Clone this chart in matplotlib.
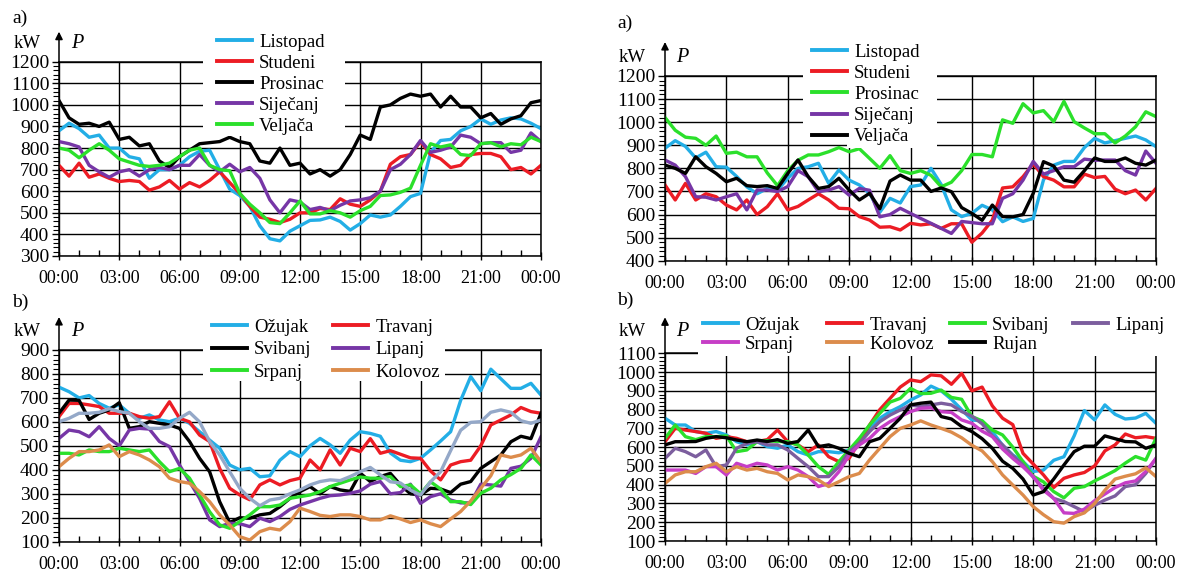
import numpy as np
import matplotlib
matplotlib.use("Agg")
import matplotlib.pyplot as plt
from matplotlib.lines import Line2D
from matplotlib.patches import Rectangle
from matplotlib.ticker import MultipleLocator

plt.rcParams['font.family'] = ['Liberation Serif', 'DejaVu Serif']

# ---------------------------------------------------------------- data (kW, every 30 min)
hours = np.arange(0, 24.5, 0.5)
time_ticks = list(range(0, 25, 3))
time_labels = ["00:00", "03:00", "06:00", "09:00", "12:00", "15:00", "18:00", "21:00", "00:00"]

# top-left, a)
tl_listopad = [880, 915, 890, 850, 860, 800, 800, 760, 750, 660, 700, 700, 720, 760, 785, 790, 700, 610, 580, 530,
               440, 380, 370, 415, 440, 465, 467, 480, 460, 420, 450, 490, 480, 490, 530, 575, 590, 780, 835, 840,
               880, 900, 935, 910, 930, 940, 935, 915, 890]
tl_studeni = [720, 670, 730, 665, 680, 660, 645, 650, 645, 605, 620, 650, 610, 640, 620, 650, 690, 640, 590, 530,
              480, 470, 455, 470, 500, 500, 520, 515, 565, 540, 530, 560, 600, 725, 760, 770, 830, 770, 750, 710,
              720, 770, 775, 775, 760, 700, 710, 680, 720]
tl_prosinac = [1020, 940, 910, 915, 900, 920, 840, 850, 810, 820, 740, 710, 760, 790, 820, 825, 830, 850, 830, 820,
               740, 730, 800, 720, 730, 680, 700, 670, 700, 770, 860, 840, 990, 1000, 1030, 1050, 1040, 1050, 990,
               1040, 990, 990, 940, 960, 910, 935, 950, 1010, 1020]
tl_sijecanj = [830, 820, 805, 720, 690, 665, 690, 700, 670, 700, 710, 700, 720, 720, 770, 720, 690, 725, 690, 710,
               660, 560, 500, 560, 550, 515, 525, 510, 535, 555, 560, 570, 600, 700, 725, 770, 835, 780, 790, 805,
               860, 850, 820, 825, 825, 780, 790, 870, 830]
tl_veljaca = [800, 790, 755, 790, 820, 790, 750, 735, 720, 715, 720, 730, 760, 790, 800, 720, 700, 695, 590, 540,
              500, 455, 450, 500, 555, 495, 495, 510, 500, 480, 510, 530, 580, 583, 595, 614, 720, 820, 805, 815,
              770, 765, 820, 825, 806, 820, 815, 850, 830]

# top-right, a)
tr_listopad = [887, 920, 895, 845, 870, 807, 805, 765, 720, 690, 713, 705, 757, 800, 807, 822, 735, 793, 749, 728,
               692, 610, 670, 650, 721, 728, 800, 730, 620, 591, 605, 640, 620, 569, 590, 570, 583, 750, 814, 830,
               830, 890, 930, 910, 920, 930, 940, 923, 894]
tr_studeni = [728, 663, 735, 663, 690, 677, 641, 620, 663, 600, 634, 690, 620, 635, 663, 690, 663, 627, 625, 591,
              576, 545, 547, 533, 562, 555, 560, 540, 560, 560, 480, 520, 576, 715, 720, 764, 820, 764, 749, 720,
              720, 775, 760, 765, 710, 690, 706, 663, 713]
tr_prosinac = [1020, 965, 935, 930, 900, 940, 865, 870, 850, 850, 780, 725, 790, 835, 858, 858, 872, 890, 872, 885,
               843, 800, 855, 790, 778, 790, 770, 720, 740, 790, 860, 860, 850, 1010, 995, 1080, 1040, 1050, 1002,
               1090, 1002, 975, 950, 950, 910, 940, 980, 1045, 1024]
tr_sijecanj = [836, 814, 764, 677, 675, 663, 677, 690, 620, 706, 706, 700, 721, 790, 764, 699, 706, 721, 684, 713,
               705, 590, 600, 627, 605, 583, 562, 540, 518, 570, 565, 560, 560, 670, 690, 749, 830, 775, 790, 807,
               807, 840, 835, 836, 836, 790, 771, 875, 822]
tr_veljaca = [814, 800, 778, 850, 807, 778, 742, 757, 725, 721, 725, 713, 778, 836, 764, 713, 721, 757, 706, 663,
              692, 625, 745, 771, 749, 749, 700, 715, 699, 630, 605, 575, 641, 591, 590, 600, 692, 829, 810, 749,
              740, 790, 845, 830, 830, 845, 822, 814, 836]

# bottom-left, b)
bl_ozujak = [745, 726, 700, 710, 677, 657, 671, 636, 615, 629, 608, 601, 615, 594, 559, 524, 490, 420, 400, 406,
             371, 375, 440, 476, 455, 500, 531, 504, 469, 524, 559, 552, 540, 470, 440, 434, 448, 483, 520, 559,
             690, 789, 730, 820, 780, 740, 740, 761, 712]
bl_travanj = [622, 677, 677, 671, 664, 636, 636, 636, 622, 615, 622, 684, 615, 600, 545, 518, 406, 323, 295, 275,
              337, 358, 337, 355, 365, 441, 400, 483, 420, 490, 476, 530, 469, 480, 465, 450, 448, 395, 358, 420,
              434, 440, 500, 587, 608, 629, 660, 643, 636]
bl_svibanj = [636, 691, 690, 610, 636, 650, 680, 573, 580, 601, 594, 587, 573, 518, 448, 392, 267, 180, 200, 198,
              212, 218, 246, 281, 309, 330, 300, 330, 316, 310, 386, 351, 372, 385, 337, 300, 295, 323, 320, 305,
              340, 351, 406, 434, 462, 517, 540, 530, 636]
bl_lipanj = [531, 566, 559, 538, 580, 531, 500, 566, 573, 570, 518, 497, 420, 351, 281, 191, 163, 177, 175, 163,
             198, 184, 205, 235, 253, 267, 281, 292, 295, 302, 312, 340, 351, 300, 305, 340, 260, 288, 300, 274,
             262, 262, 340, 337, 332, 406, 415, 448, 538]
bl_srpanj = [469, 469, 462, 483, 476, 476, 490, 483, 476, 483, 434, 392, 406, 365, 295, 225, 170, 156, 184, 212,
             246, 246, 253, 281, 288, 295, 309, 330, 344, 358, 370, 365, 365, 372, 330, 337, 300, 350, 320, 267,
             267, 255, 302, 323, 358, 380, 406, 462, 420]
bl_kolovoz = [413, 448, 476, 476, 483, 504, 455, 476, 462, 441, 413, 365, 351, 344, 309, 267, 212, 170, 121, 107,
              142, 156, 149, 184, 240, 226, 210, 205, 212, 212, 205, 191, 191, 208, 195, 180, 191, 175, 163, 195,
              226, 270, 323, 375, 462, 452, 462, 490, 434]
bl_rujan = [601, 615, 636, 636, 640, 655, 643, 636, 601, 573, 573, 580, 615, 640, 600, 518, 462, 392, 323, 281,
            250, 274, 281, 300, 316, 337, 351, 358, 355, 372, 392, 410, 379, 350, 345, 315, 295, 350, 392, 480,
            565, 598, 601, 640, 650, 640, 605, 594, 608]

# bottom-right, b)
br_ozujak = [754, 718, 718, 683, 674, 683, 665, 629, 612, 629, 603, 594, 612, 576, 558, 576, 576, 570, 585, 629,
             700, 754, 789, 816, 851, 878, 925, 900, 855, 800, 745, 740, 683, 610, 558, 523, 470, 478, 530, 549,
             660, 795, 745, 825, 775, 750, 755, 780, 727]
br_travanj = [629, 700, 691, 683, 674, 647, 656, 647, 629, 630, 640, 691, 629, 612, 576, 612, 549, 523, 540, 629,
              718, 800, 860, 920, 958, 949, 985, 980, 935, 993, 900, 920, 820, 754, 720, 567, 510, 452, 385, 434,
              452, 465, 500, 580, 612, 670, 650, 656, 647]
br_svibanj = [647, 718, 656, 640, 656, 656, 660, 576, 585, 629, 635, 630, 629, 612, 558, 496, 455, 523, 585, 647,
              718, 780, 840, 860, 913, 885, 887, 904, 865, 855, 763, 740, 691, 665, 600, 523, 445, 415, 363, 330,
              381, 390, 420, 447, 475, 515, 550, 531, 647]
br_lipanj = [540, 594, 576, 549, 585, 496, 505, 594, 620, 629, 612, 612, 585, 540, 496, 443, 443, 496, 576, 620,
             683, 736, 771, 798, 825, 816, 825, 834, 825, 790, 765, 725, 660, 612, 555, 505, 440, 381, 327, 310,
             283, 256, 290, 318, 340, 390, 400, 460, 540]
br_srpanj = [478, 478, 478, 460, 496, 496, 452, 514, 496, 514, 505, 478, 496, 478, 443, 390, 407, 469, 558, 612,
             647, 700, 736, 763, 789, 807, 810, 789, 785, 745, 727, 685, 656, 590, 540, 495, 443, 370, 327, 250,
             247, 270, 315, 350, 385, 410, 420, 470, 540]
br_kolovoz = [407, 452, 469, 469, 496, 514, 469, 496, 478, 487, 469, 460, 425, 452, 443, 425, 390, 416, 443, 460,
              532, 594, 656, 700, 718, 740, 718, 700, 680, 650, 610, 580, 523, 452, 398, 345, 283, 240, 203, 195,
              230, 250, 300, 370, 430, 445, 458, 490, 443]
br_rujan = [612, 629, 629, 630, 647, 656, 650, 638, 629, 638, 630, 640, 620, 630, 691, 603, 612, 594, 567, 549,
            629, 647, 700, 754, 825, 834, 840, 763, 750, 710, 683, 645, 594, 525, 487, 430, 345, 363, 430, 505,
            576, 605, 605, 660, 645, 630, 628, 594, 612]

# ---------------------------------------------------------------- styling
CYAN, RED, BLACK = '#23aee6', '#ec1c24', '#000000'
PURPLE, GREEN, ORANGE = '#7636a6', '#2be02b', '#dc8c4c'
STEEL, MAGENTA, LILAC = '#94a8c8', '#c63ec6', '#7c5e9e'
LW = 2.4
W, H = 1184, 575
FS_XTICK = 13
FS_YTICK = 14
FS_LEG = 13.5

fig = plt.figure(figsize=(W / 100, H / 100), dpi=100)
fig.patch.set_facecolor('white')


def px_axes(x0, y0, x1, y1):
    return fig.add_axes([x0 / W, 1 - y1 / H, (x1 - x0) / W, (y1 - y0) / H])


def style_axes(ax, ymin, ymax, top_px):
    ax.set_xlim(0, 24)
    ax.set_ylim(ymin, ymax)
    ax.set_xticks(time_ticks)
    ax.set_xticklabels(time_labels)
    ax.xaxis.set_minor_locator(MultipleLocator(1))
    ax.yaxis.set_major_locator(MultipleLocator(100))
    ax.yaxis.set_minor_locator(MultipleLocator(20))
    ax.grid(True, which='major', color='black', lw=1.0)
    ax.set_axisbelow(True)
    ax.tick_params(axis='x', which='major', direction='inout', length=6, width=1,
                   labelsize=FS_XTICK, pad=7)
    ax.tick_params(axis='x', which='minor', direction='in', length=4, width=1)
    ax.tick_params(axis='y', which='major', direction='out', length=5, width=1,
                   labelsize=FS_YTICK, pad=2)
    ax.tick_params(axis='y', which='minor', direction='out', length=4, width=0.8)
    for s in ax.spines.values():
        s.set_linewidth(1.1)
        s.set_color('black')
    # arrow on the power axis
    h = ax.get_position().height * H
    ax.annotate('', xy=(0, 1 + top_px / h), xytext=(0, 1), xycoords='axes fraction',
                arrowprops=dict(arrowstyle='-|>', color='black', lw=1.1,
                                mutation_scale=11, shrinkA=0, shrinkB=0),
                annotation_clip=False)


def white_box(x0, y0, x1, y1):
    fig.add_artist(Rectangle((x0 / W, 1 - y1 / H), (x1 - x0) / W, (y1 - y0) / H,
                             transform=fig.transFigure, facecolor='white',
                             edgecolor='none', zorder=3))


def entry(color, label, x, y):
    handle = Line2D([], [], color=color, lw=LW + 0.4)
    fig.legend([handle], [label], loc='center left', bbox_to_anchor=(x / W, 1 - y / H),
               frameon=False, borderpad=0, borderaxespad=0, handlelength=1.85,
               handletextpad=0.4, fontsize=FS_LEG)


def panel_labels(tag, x_tag, y_tag, y_kw, x_p):
    fig.text(x_tag / W, 1 - y_tag / H, tag, fontsize=14, ha='center', va='center')
    fig.text((x_tag + 7) / W, 1 - y_kw / H, 'kW', fontsize=13.5, ha='center', va='center')
    fig.text(x_p / W, 1 - y_kw / H, 'P', fontsize=14.5, style='italic', ha='center', va='center')


# ---------------------------------------------------------------- top-left
ax = px_axes(59, 61.7, 541, 256)
style_axes(ax, 300, 1200, 30)
tl = [(tl_listopad, CYAN, 'Listopad'), (tl_studeni, RED, 'Studeni'),
      (tl_prosinac, BLACK, 'Prosinac'), (tl_sijecanj, PURPLE, 'Siječanj'),
      (tl_veljaca, GREEN, 'Veljača')]
for vals, c, lab in tl:
    ax.plot(hours, vals, color=c, lw=LW, solid_joinstyle='round')
white_box(203, 20, 345, 136)
for i, (vals, c, lab) in enumerate(tl):
    entry(c, lab, 217, 42 + 21 * i)
panel_labels('a)', 20, 18, 43, 77)

# ---------------------------------------------------------------- top-right
ax = px_axes(665, 76, 1156, 260.7)
style_axes(ax, 400, 1200, 34)
tr = [(tr_listopad, CYAN, 'Listopad'), (tr_studeni, RED, 'Studeni'),
      (tr_prosinac, GREEN, 'Prosinac'), (tr_sijecanj, PURPLE, 'Siječanj'),
      (tr_veljaca, BLACK, 'Veljača')]
for vals, c, lab in tr:
    ax.plot(hours, vals, color=c, lw=LW, solid_joinstyle='round')
white_box(803, 30, 937, 142)
white_box(847, 30, 937, 148)
for i, (vals, c, lab) in enumerate(tr):
    entry(c, lab, 812, 52 + 21.2 * i)
panel_labels('a)', 625, 23, 57, 682)

# ---------------------------------------------------------------- bottom-left
ax = px_axes(59, 350, 541, 541.7)
style_axes(ax, 100, 900, 33)
bl = [(bl_ozujak, CYAN, 'Ožujak'), (bl_travanj, RED, 'Travanj'),
      (bl_svibanj, BLACK, 'Svibanj'), (bl_lipanj, PURPLE, 'Lipanj'),
      (bl_srpanj, GREEN, 'Srpanj'), (bl_kolovoz, ORANGE, 'Kolovoz')]
for vals, c, lab in bl:
    ax.plot(hours, vals, color=c, lw=LW, solid_joinstyle='round')
ax.plot(hours, bl_rujan, color=STEEL, lw=LW, solid_joinstyle='round')
white_box(203, 300, 445, 381)
for i, (vals, c, lab) in enumerate(bl):
    col, row = i % 2, i // 2
    entry(c, lab, [212, 333][col], 327 + 22.5 * row)
panel_labels('b)', 20, 302, 332, 77)

# ---------------------------------------------------------------- bottom-right
ax = px_axes(665, 353.3, 1156, 541)
style_axes(ax, 100, 1100, 36)
br = [(br_ozujak, CYAN, 'Ožujak'), (br_travanj, RED, 'Travanj'),
      (br_svibanj, GREEN, 'Svibanj'), (br_lipanj, LILAC, 'Lipanj'),
      (br_srpanj, MAGENTA, 'Srpanj'), (br_kolovoz, ORANGE, 'Kolovoz'),
      (br_rujan, BLACK, 'Rujan')]
for vals, c, lab in br:
    ax.plot(hours, vals, color=c, lw=LW, solid_joinstyle='round')
white_box(698, 300, 1162, 356)
for i, (vals, c, lab) in enumerate(br):
    col, row = i % 4, i // 4
    entry(c, lab, [703, 827, 950, 1073][col], 325 + 19 * row)
panel_labels('b)', 625, 300, 332, 682)

fig.savefig('out.png', dpi=100, facecolor='white')
